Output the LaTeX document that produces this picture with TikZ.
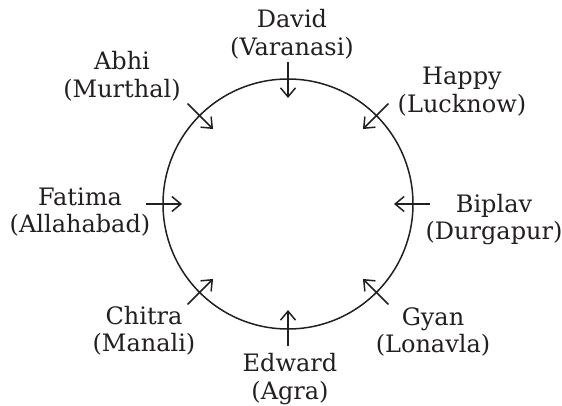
\documentclass[tikz,border=0pt]{standalone}
\usepackage{fontspec}
\setmainfont{DejaVu Serif}
\usetikzlibrary{arrows.meta,calc}
\definecolor{ink}{HTML}{231F20}
\begin{document}
\begin{tikzpicture}[x=1pt,y=1pt,
  lbl/.style={align=center,anchor=base,font=\fontsize{24}{27.5}\selectfont,text=ink,inner sep=0pt},
  ring/.style={draw=ink,line width=1.5pt},
  pointer/.style={draw=ink,line width=1.5pt,-{Straight Barb[length=9pt,width=15pt,line width=1.5pt]}}]
\useasboundingbox (0,0) rectangle (562,405);
\coordinate (c) at (288,201);
\node[ring,circle,minimum size=250pt,inner sep=0pt] (circ) at (c) {};
\foreach \nm/\a in {d/90,h/45,b/0,g/-45,e/-90,ch/-135,f/180,ab/135}{
  \coordinate (\nm s) at ($(c)+(\a:142)$);
  \coordinate (\nm t) at ($(c)+(\a:106)$);
  \draw[pointer] (\nm s) -- (\nm t);
}
\node[lbl] (ld) at (292,349.5) {David\\(Varanasi)};
\node[lbl] (lab) at (122,307.5) {Abhi\\(Murthal)};
\node[lbl] (lh) at (462,292.5) {Happy\\(Lucknow)};
\node[lbl] (lf) at (80,172.5) {Fatima\\(Allahabad)};
\node[lbl] (lb) at (494,165.5) {Biplav\\(Durgapur)};
\node[lbl] (lch) at (144,53.5) {Chitra\\(Manali)};
\node[lbl] (lg) at (433,52.5) {Gyan\\(Lonavla)};
\node[lbl] (le) at (290,6) {Edward\\(Agra)};
\end{tikzpicture}
\end{document}
